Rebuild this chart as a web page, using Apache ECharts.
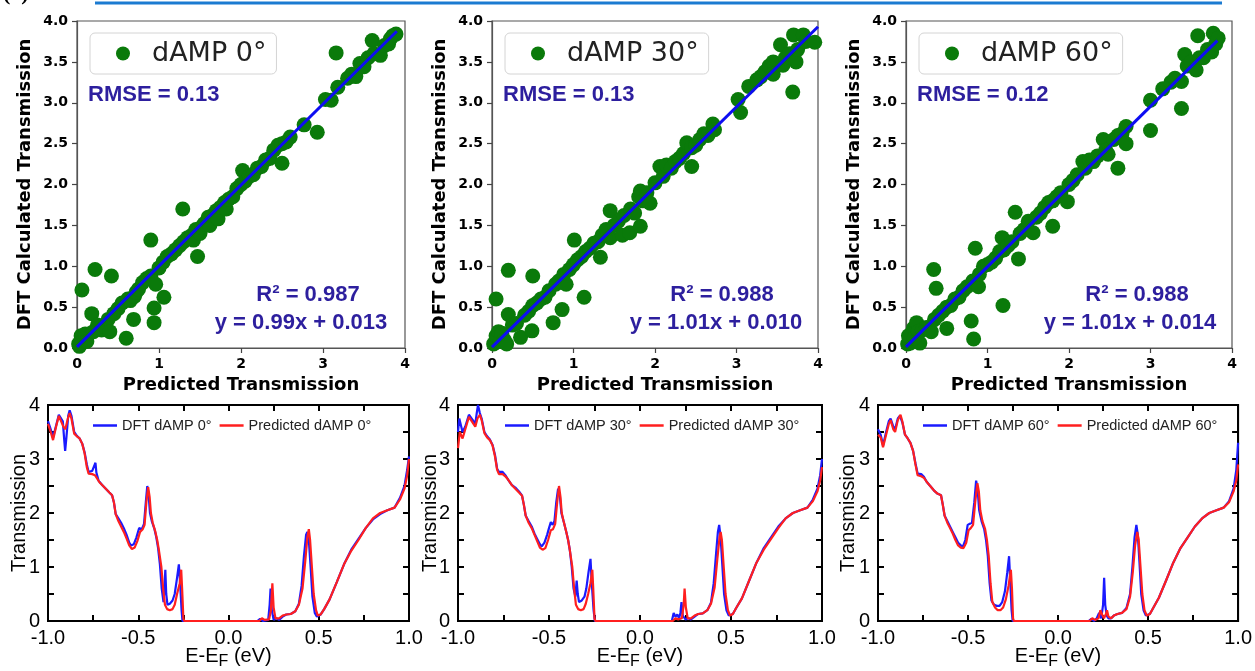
<!DOCTYPE html>
<html><head><meta charset="utf-8">
<script src="https://cdn.jsdelivr.net/npm/echarts/dist/echarts.min.js"></script>
<style>html,body{margin:0;padding:0;background:#fff}#c{width:1255px;height:671px}</style>
</head><body><div id="c"></div><script>
// ---------- DATA ----------
const scatterNames = ['dAMP 0°', 'dAMP 30°', 'dAMP 60°'];
const rmseLabels = ['RMSE = 0.13', 'RMSE = 0.13', 'RMSE = 0.12'];
const r2Labels = ['R² = 0.987', 'R² = 0.988', 'R² = 0.988'];
const eqLabels = ['y = 0.99x + 0.013', 'y = 1.01x + 0.010', 'y = 1.01x + 0.014'];

const scatter0 = [[0.02,0.05],[0.05,0.15],[0.08,0.1],[0.1,0.17],[0.03,0.02],[0.12,0.08],[0.06,0.71],[0.22,0.96],[0.42,0.88],[0.18,0.42],[0.2,0.2],[0.25,0.28],[0.3,0.22],[0.35,0.25],[0.38,0.35],[0.4,0.2],[0.45,0.42],[0.5,0.48],[0.55,0.55],[0.6,0.12],[0.62,0.6],[0.65,0.58],[0.69,0.35],[0.7,0.63],[0.72,0.68],[0.75,0.72],[0.8,0.8],[0.85,0.85],[0.9,1.32],[0.9,0.88],[0.94,0.49],[0.94,0.31],[0.96,0.78],[1.0,0.98],[1.06,0.62],[1.05,1.05],[1.1,1.12],[1.15,1.15],[1.2,1.2],[1.25,1.25],[1.29,1.7],[1.3,1.3],[1.35,1.35],[1.4,1.38],[1.42,1.32],[1.45,1.45],[1.47,1.12],[1.5,1.4],[1.52,1.48],[1.55,1.52],[1.6,1.6],[1.62,1.5],[1.65,1.62],[1.7,1.68],[1.72,1.58],[1.75,1.72],[1.8,1.78],[1.82,1.7],[1.85,1.82],[1.9,1.85],[1.95,1.95],[2.0,2.0],[2.02,2.17],[2.05,2.04],[2.1,2.1],[2.15,2.12],[2.2,2.2],[2.25,2.22],[2.3,2.3],[2.35,2.32],[2.4,2.42],[2.45,2.48],[2.5,2.26],[2.5,2.5],[2.55,2.52],[2.6,2.58],[2.77,2.73],[2.93,2.64],[3.03,3.04],[3.1,3.03],[3.18,3.19],[3.16,3.61],[3.3,3.3],[3.35,3.35],[3.4,3.32],[3.45,3.48],[3.5,3.44],[3.55,3.55],[3.6,3.76],[3.62,3.6],[3.7,3.58],[3.75,3.7],[3.8,3.72],[3.85,3.82],[3.89,3.84],[3.82,3.78]];
const scatter30 = [[0.02,0.05],[0.05,0.15],[0.08,0.2],[0.1,0.08],[0.12,0.18],[0.15,0.1],[0.18,0.05],[0.05,0.6],[0.2,0.95],[0.5,0.88],[0.2,0.41],[0.25,0.28],[0.3,0.3],[0.35,0.13],[0.4,0.4],[0.45,0.45],[0.49,0.21],[0.5,0.52],[0.55,0.55],[0.6,0.6],[0.65,0.62],[0.7,0.7],[0.75,0.31],[0.78,0.78],[0.82,0.82],[0.86,0.47],[0.88,0.9],[0.91,0.78],[0.95,0.96],[1.0,1.02],[1.01,1.32],[1.05,1.08],[1.1,1.12],[1.13,0.62],[1.15,1.18],[1.2,1.22],[1.25,1.28],[1.3,1.3],[1.33,1.11],[1.35,1.38],[1.4,1.45],[1.45,1.68],[1.45,1.35],[1.5,1.5],[1.55,1.55],[1.6,1.38],[1.62,1.62],[1.69,1.41],[1.7,1.7],[1.75,1.65],[1.8,1.85],[1.82,1.49],[1.82,1.92],[1.85,1.8],[1.9,1.9],[1.94,1.77],[2.0,2.02],[2.06,2.22],[2.1,2.1],[2.14,2.24],[2.2,2.2],[2.25,2.28],[2.3,2.32],[2.35,2.38],[2.39,2.51],[2.45,2.22],[2.45,2.45],[2.5,2.48],[2.55,2.55],[2.6,2.62],[2.65,2.6],[2.71,2.74],[2.73,2.67],[3.02,3.04],[3.05,2.88],[3.15,3.2],[3.25,3.28],[3.3,3.32],[3.35,3.38],[3.4,3.45],[3.45,3.5],[3.45,3.35],[3.54,3.71],[3.57,3.46],[3.6,3.55],[3.65,3.6],[3.69,3.13],[3.7,3.83],[3.73,3.5],[3.75,3.65],[3.82,3.83],[3.85,3.75],[3.96,3.74]];
const scatter60 = [[0.02,0.05],[0.05,0.06],[0.03,0.15],[0.09,0.24],[0.13,0.31],[0.17,0.06],[0.1,0.12],[0.15,0.2],[0.2,0.22],[0.25,0.25],[0.31,0.2],[0.34,0.96],[0.37,0.73],[0.35,0.35],[0.4,0.4],[0.45,0.45],[0.5,0.24],[0.5,0.5],[0.55,0.52],[0.6,0.6],[0.65,0.62],[0.7,0.7],[0.75,0.75],[0.8,0.33],[0.83,0.11],[0.82,0.82],[0.85,1.22],[0.89,0.75],[0.9,0.9],[0.95,1.0],[1.0,1.02],[1.05,1.05],[1.1,1.1],[1.15,1.18],[1.18,1.35],[1.19,0.52],[1.2,1.2],[1.25,1.25],[1.3,1.3],[1.34,1.66],[1.38,1.09],[1.4,1.4],[1.45,1.45],[1.5,1.55],[1.56,1.41],[1.6,1.6],[1.65,1.65],[1.7,1.72],[1.75,1.78],[1.8,1.49],[1.8,1.8],[1.85,1.85],[1.9,1.9],[1.98,1.79],[2.0,2.0],[2.05,2.05],[2.1,2.12],[2.17,2.28],[2.2,2.2],[2.25,2.3],[2.3,2.28],[2.35,2.35],[2.42,2.55],[2.45,2.42],[2.48,2.37],[2.55,2.55],[2.6,2.2],[2.6,2.6],[2.65,2.62],[2.7,2.5],[2.7,2.71],[3.0,2.66],[3.0,3.03],[3.15,3.17],[3.25,3.25],[3.3,3.3],[3.38,3.26],[3.38,2.93],[3.42,3.59],[3.45,3.45],[3.5,3.5],[3.56,3.4],[3.58,3.82],[3.6,3.55],[3.65,3.55],[3.7,3.65],[3.75,3.62],[3.77,3.85],[3.8,3.72],[3.83,3.79]];

const fit0 = [[0, 0.013], [3.9, 3.874]];
const fit30 = [[0, 0.01], [4.0, 3.93]];
const fit60 = [[0, 0.014], [3.82, 3.76]];

const lineNamesDFT = ['DFT dAMP 0°', 'DFT dAMP 30°', 'DFT dAMP 60°'];
const lineNamesPred = ['Predicted dAMP 0°', 'Predicted dAMP 30°', 'Predicted dAMP 60°'];

const dft0 = [[-1.0,3.7],[-0.985,3.55],[-0.972,3.4],[-0.955,3.62],[-0.94,3.82],[-0.93,3.83],[-0.918,3.7],[-0.91,3.35],[-0.905,3.15],[-0.898,3.4],[-0.888,3.8],[-0.88,3.9],[-0.87,3.8],[-0.855,3.5],[-0.84,3.43],[-0.825,3.38],[-0.81,3.28],[-0.797,3.12],[-0.785,2.9],[-0.775,2.76],[-0.755,2.78],[-0.745,2.8],[-0.737,2.93],[-0.732,2.75],[-0.72,2.6],[-0.7,2.52],[-0.68,2.45],[-0.66,2.38],[-0.645,2.33],[-0.635,2.2],[-0.625,1.98],[-0.61,1.9],[-0.595,1.82],[-0.58,1.72],[-0.565,1.6],[-0.55,1.45],[-0.54,1.4],[-0.525,1.42],[-0.51,1.55],[-0.495,1.72],[-0.48,1.7],[-0.468,1.8],[-0.458,2.2],[-0.45,2.5],[-0.443,2.35],[-0.435,2.0],[-0.425,1.85],[-0.41,1.7],[-0.4,1.55],[-0.39,1.35],[-0.38,1.05],[-0.37,0.6],[-0.36,0.35],[-0.355,0.6],[-0.35,0.95],[-0.345,0.5],[-0.338,0.3],[-0.325,0.32],[-0.31,0.38],[-0.298,0.5],[-0.285,0.8],[-0.275,1.05],[-0.268,0.7],[-0.26,0.2],[-0.255,0.0],[0.16,0.0],[0.175,0.04],[0.19,0.0],[0.22,0.02],[0.228,0.3],[0.233,0.6],[0.24,0.2],[0.25,0.02],[0.265,0.05],[0.28,0.02],[0.3,0.08],[0.32,0.12],[0.345,0.13],[0.37,0.18],[0.39,0.32],[0.405,0.65],[0.418,1.2],[0.43,1.6],[0.437,1.65],[0.445,1.5],[0.455,1.0],[0.465,0.45],[0.478,0.15],[0.49,0.08],[0.51,0.12],[0.53,0.22],[0.56,0.4],[0.6,0.72],[0.64,1.05],[0.68,1.32],[0.72,1.52],[0.76,1.72],[0.8,1.88],[0.84,1.98],[0.88,2.05],[0.92,2.1],[0.95,2.28],[0.975,2.5],[0.99,2.8],[1.0,3.05]];
const pred0 = [[-1.0,3.65],[-0.985,3.5],[-0.972,3.35],[-0.955,3.6],[-0.94,3.8],[-0.93,3.78],[-0.915,3.6],[-0.904,3.55],[-0.89,3.75],[-0.88,3.85],[-0.87,3.75],[-0.855,3.47],[-0.84,3.42],[-0.825,3.38],[-0.81,3.28],[-0.797,3.1],[-0.785,2.85],[-0.775,2.73],[-0.755,2.72],[-0.74,2.7],[-0.73,2.65],[-0.715,2.57],[-0.7,2.52],[-0.68,2.45],[-0.66,2.38],[-0.645,2.33],[-0.635,2.2],[-0.625,1.98],[-0.61,1.85],[-0.595,1.75],[-0.58,1.65],[-0.565,1.53],[-0.55,1.4],[-0.535,1.33],[-0.52,1.36],[-0.505,1.48],[-0.49,1.65],[-0.475,1.7],[-0.465,1.78],[-0.455,2.2],[-0.445,2.48],[-0.437,2.3],[-0.43,2.0],[-0.42,1.82],[-0.405,1.65],[-0.395,1.5],[-0.385,1.3],[-0.372,1.0],[-0.362,0.6],[-0.352,0.3],[-0.34,0.22],[-0.325,0.2],[-0.31,0.22],[-0.298,0.3],[-0.285,0.5],[-0.27,0.7],[-0.262,0.95],[-0.257,0.6],[-0.25,0.05],[-0.245,0.0],[0.17,0.0],[0.185,0.05],[0.2,0.02],[0.225,0.03],[0.235,0.2],[0.243,0.7],[0.25,0.25],[0.26,0.05],[0.28,0.05],[0.3,0.1],[0.32,0.12],[0.345,0.13],[0.37,0.18],[0.39,0.3],[0.41,0.6],[0.425,1.1],[0.437,1.55],[0.445,1.7],[0.452,1.5],[0.462,1.0],[0.472,0.5],[0.485,0.2],[0.495,0.1],[0.51,0.12],[0.53,0.22],[0.56,0.4],[0.6,0.72],[0.64,1.05],[0.68,1.3],[0.72,1.5],[0.76,1.72],[0.8,1.9],[0.84,2.0],[0.88,2.05],[0.92,2.1],[0.95,2.25],[0.975,2.45],[0.99,2.7],[1.0,3.0]];
const dft30 = [[-1.0,3.5],[-0.993,3.75],[-0.975,3.5],[-0.96,3.6],[-0.94,3.82],[-0.93,3.85],[-0.915,3.7],[-0.905,3.65],[-0.897,3.85],[-0.89,4.0],[-0.88,3.85],[-0.87,3.75],[-0.855,3.5],[-0.84,3.42],[-0.825,3.36],[-0.81,3.26],[-0.797,3.08],[-0.785,2.82],[-0.775,2.76],[-0.755,2.76],[-0.74,2.7],[-0.725,2.62],[-0.705,2.52],[-0.685,2.47],[-0.665,2.4],[-0.648,2.32],[-0.638,2.15],[-0.628,1.95],[-0.612,1.85],[-0.595,1.75],[-0.58,1.62],[-0.565,1.52],[-0.55,1.42],[-0.54,1.38],[-0.525,1.45],[-0.51,1.6],[-0.5,1.72],[-0.49,1.83],[-0.48,1.78],[-0.47,1.85],[-0.46,2.2],[-0.45,2.45],[-0.44,2.3],[-0.432,2.0],[-0.42,1.85],[-0.405,1.65],[-0.395,1.5],[-0.385,1.3],[-0.375,1.0],[-0.365,0.6],[-0.355,0.45],[-0.348,0.75],[-0.342,0.5],[-0.335,0.35],[-0.32,0.38],[-0.305,0.45],[-0.295,0.6],[-0.283,0.9],[-0.272,1.15],[-0.265,0.7],[-0.255,0.2],[-0.248,0.0],[0.175,0.0],[0.185,0.15],[0.195,0.08],[0.205,0.12],[0.215,0.05],[0.222,0.15],[0.228,0.35],[0.235,0.1],[0.25,0.03],[0.265,0.05],[0.28,0.03],[0.3,0.08],[0.32,0.13],[0.345,0.14],[0.37,0.2],[0.39,0.34],[0.405,0.7],[0.418,1.25],[0.428,1.65],[0.435,1.78],[0.443,1.55],[0.452,1.05],[0.462,0.5],[0.475,0.2],[0.488,0.1],[0.51,0.13],[0.53,0.25],[0.56,0.42],[0.6,0.75],[0.64,1.08],[0.68,1.35],[0.72,1.55],[0.76,1.75],[0.8,1.9],[0.84,2.0],[0.88,2.05],[0.92,2.1],[0.95,2.25],[0.975,2.45],[0.99,2.7],[1.0,3.0]];
const pred30 = [[-1.0,3.2],[-0.99,3.5],[-0.975,3.38],[-0.96,3.55],[-0.94,3.78],[-0.93,3.8],[-0.915,3.65],[-0.905,3.6],[-0.893,3.75],[-0.88,3.82],[-0.87,3.72],[-0.855,3.48],[-0.84,3.4],[-0.825,3.35],[-0.81,3.25],[-0.797,3.05],[-0.785,2.8],[-0.775,2.72],[-0.755,2.72],[-0.74,2.68],[-0.725,2.62],[-0.705,2.52],[-0.685,2.45],[-0.665,2.38],[-0.648,2.32],[-0.638,2.15],[-0.628,1.95],[-0.612,1.82],[-0.595,1.72],[-0.58,1.6],[-0.565,1.48],[-0.55,1.36],[-0.535,1.32],[-0.52,1.35],[-0.505,1.5],[-0.49,1.68],[-0.478,1.7],[-0.466,1.8],[-0.455,2.2],[-0.445,2.5],[-0.437,2.3],[-0.43,2.0],[-0.42,1.85],[-0.405,1.65],[-0.395,1.5],[-0.385,1.3],[-0.372,1.0],[-0.362,0.6],[-0.352,0.3],[-0.34,0.22],[-0.325,0.2],[-0.31,0.22],[-0.298,0.32],[-0.285,0.5],[-0.272,0.7],[-0.262,0.95],[-0.257,0.6],[-0.25,0.05],[-0.245,0.0],[0.18,0.0],[0.195,0.05],[0.21,0.03],[0.23,0.05],[0.24,0.3],[0.245,0.6],[0.252,0.25],[0.262,0.05],[0.28,0.05],[0.3,0.1],[0.32,0.13],[0.345,0.14],[0.37,0.2],[0.39,0.32],[0.41,0.62],[0.425,1.15],[0.437,1.55],[0.443,1.65],[0.45,1.5],[0.46,1.0],[0.47,0.5],[0.483,0.2],[0.495,0.1],[0.51,0.13],[0.53,0.25],[0.56,0.42],[0.6,0.75],[0.64,1.08],[0.68,1.32],[0.72,1.52],[0.76,1.72],[0.8,1.9],[0.84,2.0],[0.88,2.05],[0.92,2.1],[0.95,2.22],[0.975,2.4],[0.99,2.6],[1.0,2.85]];
const dft60 = [[-1.0,3.55],[-0.985,3.45],[-0.972,3.25],[-0.955,3.5],[-0.94,3.7],[-0.93,3.75],[-0.915,3.6],[-0.905,3.55],[-0.89,3.75],[-0.878,3.8],[-0.865,3.68],[-0.85,3.45],[-0.835,3.38],[-0.82,3.3],[-0.805,3.15],[-0.792,2.92],[-0.78,2.73],[-0.76,2.72],[-0.745,2.67],[-0.73,2.58],[-0.71,2.5],[-0.69,2.42],[-0.67,2.36],[-0.65,2.33],[-0.64,2.15],[-0.63,1.95],[-0.615,1.85],[-0.6,1.75],[-0.585,1.65],[-0.57,1.55],[-0.555,1.45],[-0.54,1.4],[-0.528,1.38],[-0.515,1.5],[-0.502,1.78],[-0.49,1.8],[-0.478,1.82],[-0.465,2.2],[-0.455,2.6],[-0.447,2.45],[-0.438,2.05],[-0.425,1.85],[-0.41,1.7],[-0.4,1.5],[-0.39,1.2],[-0.38,0.7],[-0.37,0.38],[-0.355,0.3],[-0.34,0.28],[-0.325,0.28],[-0.31,0.35],[-0.295,0.55],[-0.282,0.9],[-0.272,1.2],[-0.265,0.7],[-0.258,0.2],[-0.252,0.0],[0.17,0.0],[0.185,0.04],[0.2,0.0],[0.215,0.05],[0.228,0.15],[0.24,0.05],[0.25,0.3],[0.256,0.8],[0.262,0.3],[0.27,0.1],[0.28,0.05],[0.295,0.05],[0.31,0.1],[0.33,0.13],[0.355,0.15],[0.38,0.24],[0.4,0.5],[0.413,1.0],[0.425,1.55],[0.435,1.78],[0.443,1.6],[0.452,1.1],[0.462,0.5],[0.475,0.2],[0.488,0.1],[0.51,0.13],[0.53,0.25],[0.56,0.43],[0.6,0.75],[0.64,1.08],[0.68,1.35],[0.72,1.55],[0.76,1.75],[0.8,1.9],[0.84,2.0],[0.88,2.05],[0.92,2.1],[0.95,2.22],[0.975,2.45],[0.99,2.8],[1.0,3.3]];
const pred60 = [[-1.0,3.45],[-0.985,3.4],[-0.972,3.22],[-0.955,3.45],[-0.94,3.65],[-0.93,3.72],[-0.915,3.55],[-0.905,3.5],[-0.89,3.72],[-0.875,3.82],[-0.865,3.7],[-0.85,3.45],[-0.835,3.38],[-0.82,3.3],[-0.805,3.15],[-0.792,2.9],[-0.78,2.7],[-0.76,2.68],[-0.745,2.65],[-0.73,2.58],[-0.71,2.5],[-0.69,2.42],[-0.67,2.36],[-0.65,2.33],[-0.64,2.15],[-0.63,1.95],[-0.615,1.82],[-0.6,1.72],[-0.585,1.62],[-0.57,1.5],[-0.555,1.4],[-0.54,1.36],[-0.525,1.35],[-0.51,1.45],[-0.497,1.68],[-0.485,1.72],[-0.472,1.78],[-0.46,2.2],[-0.448,2.55],[-0.44,2.4],[-0.432,2.05],[-0.42,1.85],[-0.405,1.7],[-0.395,1.5],[-0.385,1.2],[-0.375,0.7],[-0.365,0.35],[-0.35,0.25],[-0.335,0.2],[-0.32,0.2],[-0.305,0.25],[-0.29,0.4],[-0.275,0.65],[-0.262,0.95],[-0.256,0.6],[-0.25,0.05],[-0.245,0.0],[0.175,0.0],[0.19,0.05],[0.205,0.02],[0.225,0.05],[0.235,0.2],[0.245,0.12],[0.255,0.05],[0.265,0.12],[0.272,0.2],[0.28,0.08],[0.295,0.05],[0.31,0.1],[0.33,0.13],[0.355,0.15],[0.38,0.22],[0.4,0.45],[0.415,0.9],[0.428,1.4],[0.44,1.65],[0.448,1.5],[0.458,1.0],[0.468,0.5],[0.48,0.2],[0.493,0.1],[0.51,0.13],[0.53,0.25],[0.56,0.43],[0.6,0.75],[0.64,1.08],[0.68,1.35],[0.72,1.55],[0.76,1.75],[0.8,1.9],[0.84,2.0],[0.88,2.05],[0.92,2.1],[0.95,2.2],[0.975,2.4],[0.99,2.6],[1.0,2.9]];

// ---------- LAYOUT ----------
const scatterSets = [scatter0, scatter30, scatter60];
const fitSets = [fit0, fit30, fit60];
const dftSets = [dft0, dft30, dft60];
const predSets = [pred0, pred30, pred60];

const topGrids = [
  {left: 77, top: 21, width: 328, height: 327},
  {left: 492, top: 21, width: 326, height: 327},
  {left: 906, top: 21, width: 326, height: 327}
];
const botGrids = [
  {left: 48, top: 405, width: 361, height: 218},
  {left: 458, top: 405, width: 364, height: 218},
  {left: 878, top: 405, width: 362, height: 218}
];
const botYNameGap = [19, 18, 20];
const topLegendLeft = [90, 505, 919];
const botLegendLeft = [93, 505, 923];
const rmsePos = [[88, 96], [503, 96], [917, 96]];
const r2Pos = [[308, 295], [722, 295], [1137, 295]];
const eqPos = [[301, 323], [716, 323], [1130, 323]];

const annColor = '#2d1f9e';
const greenC = '#0a7a0a';
const blueC = '#1a1aff';
const redC = '#ff1f1f';

const grid = [], xAxis = [], yAxis = [], series = [], legend = [], graphic = [];

for (let i = 0; i < 3; i++) {
  grid.push(Object.assign({show: true, borderColor: '#555', borderWidth: 1.2, backgroundColor: '#fff'}, topGrids[i]));
}
for (let i = 0; i < 3; i++) {
  grid.push(Object.assign({show: true, borderColor: '#000', borderWidth: 2}, botGrids[i]));
}

const topLabel = {color: '#000', fontFamily: 'DejaVu Sans', fontWeight: 'bold', fontSize: 14};
const topName = {color: '#000', fontFamily: 'DejaVu Sans', fontWeight: 'bold', fontSize: 18};

for (let i = 0; i < 3; i++) {
  xAxis.push({
    type: 'value', gridIndex: i, min: 0, max: 4, interval: 1,
    name: 'Predicted Transmission', nameLocation: 'middle', nameGap: 28, nameMoveOverlap: false, nameTextStyle: topName,
    axisLine: {show: true, onZero: false, lineStyle: {color: '#555', width: 1.2}},
    axisTick: {show: true, length: 5, lineStyle: {color: '#444', width: 1.2}},
    axisLabel: Object.assign({margin: 9}, topLabel),
    splitLine: {show: false}
  });
  yAxis.push({
    type: 'value', gridIndex: i, min: 0, max: 4, interval: 0.5,
    name: 'DFT Calculated Transmission', nameLocation: 'middle', nameGap: 43, nameMoveOverlap: false, nameTextStyle: topName,
    axisLine: {show: true, onZero: false, lineStyle: {color: '#555', width: 1.2}},
    axisTick: {show: true, length: 5, lineStyle: {color: '#444', width: 1.2}},
    axisLabel: Object.assign({margin: 9, formatter: v => v.toFixed(1)}, topLabel),
    splitLine: {show: false}
  });
}

const botLabel = {color: '#000', fontFamily: 'Liberation Sans', fontSize: 20};
const xFmt = v => (Math.abs(v * 2 - Math.round(v * 2)) < 1e-6 ? v.toFixed(1) : '');
const yFmt = v => (Math.abs(v - Math.round(v)) < 1e-6 ? String(Math.round(v)) : '');

for (let i = 0; i < 3; i++) {
  xAxis.push({
    type: 'value', gridIndex: 3 + i, min: -1, max: 1, interval: 0.25,
    name: 'E-E{s|F} (eV)', nameLocation: 'middle', nameGap: 21, nameMoveOverlap: false,
    nameTextStyle: Object.assign({rich: {s: {fontFamily: 'Liberation Sans', fontSize: 16, color: '#000', padding: [12, 0, 0, 0]}}}, botLabel),
    axisLine: {show: true, onZero: false, lineStyle: {color: '#000', width: 2}},
    axisTick: {show: true, inside: true, length: 6, lineStyle: {color: '#000', width: 2}},
    axisLabel: Object.assign({margin: 7, interval: 0, formatter: xFmt}, botLabel),
    splitLine: {show: false}
  });
  yAxis.push({
    type: 'value', gridIndex: 3 + i, min: 0, max: 4, interval: 0.5,
    name: 'Transmission', nameLocation: 'middle', nameGap: botYNameGap[i], nameMoveOverlap: false, nameTextStyle: botLabel,
    axisLine: {show: true, onZero: false, lineStyle: {color: '#000', width: 2}},
    axisTick: {show: true, inside: true, length: 6, lineStyle: {color: '#000', width: 2}},
    axisLabel: Object.assign({margin: 8, interval: 0, formatter: yFmt}, botLabel),
    splitLine: {show: false}
  });
}
for (let i = 0; i < 3; i++) {
  xAxis.push({
    type: 'value', gridIndex: 3 + i, min: -1, max: 1, interval: 0.25, position: 'top',
    axisLine: {show: true, onZero: false, lineStyle: {color: '#000', width: 2}},
    axisTick: {show: true, inside: true, length: 6, lineStyle: {color: '#000', width: 2}},
    axisLabel: {show: false}, splitLine: {show: false}
  });
  yAxis.push({
    type: 'value', gridIndex: 3 + i, min: 0, max: 4, interval: 0.5, position: 'right',
    axisLine: {show: true, onZero: false, lineStyle: {color: '#000', width: 2}},
    axisTick: {show: true, inside: true, length: 6, lineStyle: {color: '#000', width: 2}},
    axisLabel: {show: false}, splitLine: {show: false}
  });
}

for (let i = 0; i < 3; i++) {
  series.push({
    name: scatterNames[i], type: 'scatter', xAxisIndex: i, yAxisIndex: i,
    data: scatterSets[i], symbol: 'circle', symbolSize: 15,
    itemStyle: {color: greenC, opacity: 1}, z: 2, silent: true
  });
  series.push({
    name: 'fit ' + scatterNames[i], type: 'line', xAxisIndex: i, yAxisIndex: i,
    data: fitSets[i], symbol: 'none', lineStyle: {color: '#0d0df2', width: 3}, z: 3, silent: true
  });
  series.push({
    name: lineNamesDFT[i], type: 'line', xAxisIndex: 3 + i, yAxisIndex: 3 + i,
    data: dftSets[i], symbol: 'none', lineStyle: {color: blueC, width: 2.2}, itemStyle: {color: blueC}, z: 3, silent: true
  });
  series.push({
    name: lineNamesPred[i], type: 'line', xAxisIndex: 3 + i, yAxisIndex: 3 + i,
    data: predSets[i], symbol: 'none', lineStyle: {color: redC, width: 2.2}, itemStyle: {color: redC}, z: 4, silent: true
  });

  legend.push({
    data: [scatterNames[i]], left: topLegendLeft[i], top: 33, orient: 'horizontal',
    backgroundColor: '#fff', borderColor: '#d4d4d4', borderWidth: 1, borderRadius: 5,
    padding: [7, 10, 7, 26], itemWidth: 14, itemHeight: 14, icon: 'circle', selectedMode: false,
    formatter: n => '{g|}' + n,
    textStyle: {fontFamily: 'DejaVu Sans', fontSize: 27, color: '#222', lineHeight: 27, rich: {g: {width: 17}}}
  });
  legend.push({
    data: [lineNamesDFT[i], lineNamesPred[i]], left: botLegendLeft[i], top: 418, orient: 'horizontal',
    itemWidth: 24, itemHeight: 2.5, itemGap: 8, padding: 0, selectedMode: false, icon: 'rect',
    textStyle: {fontFamily: 'Liberation Sans', fontSize: 14.5, color: '#222'}
  });

  graphic.push({type: 'text', left: rmsePos[i][0], top: rmsePos[i][1] - 12, silent: true,
    style: {text: rmseLabels[i], fill: annColor, font: 'bold 22px "Liberation Sans"'}});
  graphic.push({type: 'text', x: r2Pos[i][0], y: r2Pos[i][1], silent: true,
    style: {text: r2Labels[i], fill: annColor, font: 'bold 22px "Liberation Sans"', textAlign: 'center', textVerticalAlign: 'middle'}});
  graphic.push({type: 'text', x: eqPos[i][0], y: eqPos[i][1], silent: true,
    style: {text: eqLabels[i], fill: annColor, font: 'bold 22px "Liberation Sans"', textAlign: 'center', textVerticalAlign: 'middle'}});
}

// top page remnants: hyperlink underline and cut-off panel label
graphic.push({type: 'line', silent: true, shape: {x1: 95, y1: 3, x2: 1222, y2: 3}, style: {stroke: '#1b7bd1', lineWidth: 3}});
graphic.push({type: 'text', x: 3, y: -17, silent: true, style: {text: '(a)', fill: '#000', font: 'bold 22px "Liberation Serif"'}});

const chart = echarts.init(document.getElementById('c'), null, {renderer: 'canvas'});
chart.setOption({animation: false, backgroundColor: '#fff', grid, xAxis, yAxis, series, legend, graphic});
</script></body></html>
